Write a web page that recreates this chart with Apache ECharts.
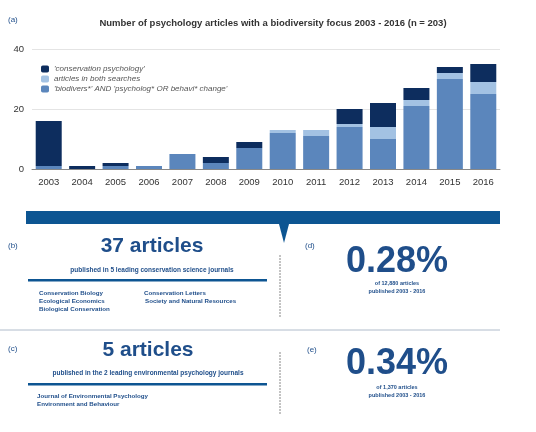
<!DOCTYPE html><html><head><meta charset="utf-8"><script src="https://cdn.jsdelivr.net/npm/echarts@6/dist/echarts.min.js"></script>
<style>body{margin:0;background:#fff}#c{width:536px;height:432px}</style></head><body><div id="c"></div><script>
const years=['2003','2004','2005','2006','2007','2008','2009','2010','2011','2012','2013','2014','2015','2016'];
const biodivers=[1,0,1,1,5,2,7,12,11,14,10,21,30,25];
const both=[0,0,0,0,0,0,0,1,2,1,4,2,2,4];
const conservation=[15,1,1,0,0,2,2,0,0,5,8,4,2,6];
const yTicks=[0,20,40];
const TC='#1f4e8a', F='Liberation Sans';
function t(x,y,s,size,opt){return Object.assign({type:'text',x:x,y:y,style:{text:s,fill:TC,font:(opt&&opt.w||'bold')+' '+size+'px "'+F+'"',textAlign:(opt&&opt.a)||'left',textVerticalAlign:'middle'}},{});}
function tc(x,y,s,size,w){const o=t(x,y,s,size,{a:'center',w:w});return o;}
const chart=echarts.init(document.getElementById('c'));
chart.setOption({
 animation:false,
 title:{text:'Number of psychology articles with a biodiversity focus 2003 - 2016 (n = 203)',left:268,top:13,textAlign:'center',textStyle:{fontSize:9.5,fontWeight:'bold',color:'#333',fontFamily:F}},
 legend:{orient:'vertical',left:36,top:60,itemWidth:8,itemHeight:7,itemGap:2,textStyle:{fontSize:8,fontStyle:'italic',color:'#555',fontFamily:F},
   data:['\'conservation psychology\'','articles in both searches','\'biodivers*\' AND \'psycholog* OR behavi* change\'']},
 grid:{left:32,right:36,top:49,height:120},
 xAxis:{type:'category',data:years,axisTick:{show:false},axisLine:{lineStyle:{color:'#888'}},axisLabel:{color:'#333',fontSize:9.5,fontFamily:F}},
 yAxis:{type:'value',min:0,max:40,interval:20,axisLabel:{color:'#333',fontSize:9.5,fontFamily:F,formatter:v=>yTicks.includes(v)?v:''},splitLine:{lineStyle:{color:'#e4e4e4'}}},
 series:[
  {name:'\'biodivers*\' AND \'psycholog* OR behavi* change\'',type:'bar',stack:'a',data:biodivers,barWidth:26,itemStyle:{color:'#5b86bc'}},
  {name:'articles in both searches',type:'bar',stack:'a',data:both,itemStyle:{color:'#a3c2e3'}},
  {name:'\'conservation psychology\'',type:'bar',stack:'a',data:conservation,itemStyle:{color:'#0d2d5e'}}
 ],
 graphic:[
  t(8,20,'(a)',8,{w:'normal'}),
  {type:'rect',shape:{x:26,y:211,width:474,height:13},style:{fill:'#0d5592'}},
  {type:'polygon',shape:{points:[[279,224],[289,224],[284,243]]},style:{fill:'#0d5592'}},
  {type:'line',shape:{x1:280,y1:255,x2:280,y2:318},style:{stroke:'#888',lineWidth:1,lineDash:[2,1]}},
  {type:'line',shape:{x1:280,y1:352,x2:280,y2:415},style:{stroke:'#888',lineWidth:1,lineDash:[2,1]}},
  {type:'line',shape:{x1:0,y1:330,x2:500,y2:330},style:{stroke:'#b0bccb',lineWidth:1}},
  {type:'rect',shape:{x:28,y:279,width:239,height:2.5},style:{fill:'#0d5592'}},
  {type:'rect',shape:{x:28,y:383,width:239,height:2.5},style:{fill:'#0d5592'}},
  t(8,246,'(b)',8,{w:'normal'}), tc(152,246,'37 articles',21), tc(152,270,'published in 5 leading conservation science journals',6.5),
  t(39,293,'Conservation Biology',6.2), t(39,301,'Ecological Economics',6.2), t(39,309,'Biological Conservation',6.2),
  t(144,293,'Conservation Letters',6.2), t(145,301,'Society and Natural Resources',6.2),
  t(305,246,'(d)',8,{w:'normal'}), tc(397,262,'0.28%',36), tc(397,283,'of 12,880 articles',5.5), tc(397,291,'published 2003 - 2016',5.5),
  t(8,349,'(c)',8,{w:'normal'}), tc(148,350,'5 articles',21), tc(148,373,'published in the 2 leading environmental psychology journals',6.5),
  t(37,396,'Journal of Environmental Psychology',6.2), t(37,404,'Environment and Behaviour',6.2),
  t(307,350,'(e)',8,{w:'normal'}), tc(397,364,'0.34%',36), tc(397,387,'of 1,370 articles',5.5), tc(397,395,'published 2003 - 2016',5.5)
 ]
});
</script></body></html>
